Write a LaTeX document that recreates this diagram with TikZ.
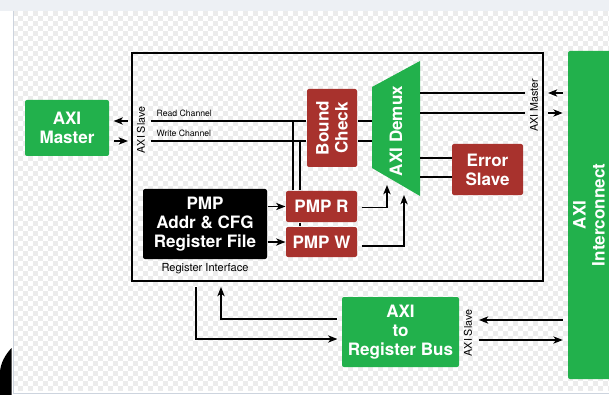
\documentclass[tikz,border=0pt]{standalone}
\usepackage{fontspec}
\setmainfont{TeX Gyre Heros}
\usetikzlibrary{arrows.meta}

\definecolor{axigreen}{RGB}{34,177,76}
\definecolor{pmpred}{RGB}{168,50,45}
\definecolor{checkgray}{RGB}{236,236,236}
\definecolor{panelgray}{RGB}{237,240,244}
\definecolor{panelline}{RGB}{205,212,222}

\tikzset{every picture/.style={line width=0.9pt}}
\tikzset{
  blk/.style 2 args={minimum width={#1*0.75pt},minimum height={#2*0.75pt},inner sep=0pt,
    align=center,text=white,rounded corners=1.5pt,font=\bfseries\fontsize{12.8}{14.3}\selectfont},
  greenbox/.style={fill=axigreen},
  redbox/.style={fill=pmpred},
  lbl/.style={font=\fontsize{8}{9}\selectfont,inner sep=0.75pt},
  sig/.style={-{Stealth[length=7pt,width=5.5pt,inset=2pt]}},
}

\begin{document}
\begin{tikzpicture}[x=0.75pt,y=0.75pt,yscale=-1]
\useasboundingbox (0,0) rectangle (609,395);

%Backdrop: checkered rows
\fill[panelgray] (0,0) rectangle (609,11);
\fill[white] (0,11) rectangle (609,395);
\foreach \r [evaluate=\r as \ph using {mod(\r,2)*3.75}] in {0,...,75}
  \draw[checkgray,line width=3.75pt,dash pattern=on 3.75pt off 3.75pt,dash phase=\ph pt]
    (13,13.5+5*\r) -- (609,13.5+5*\r);
\fill[white] (0,391) rectangle (609,395);
\draw[panelline,line width=0.6pt] (13,11) -- (13,393) -- (609,393);
\fill (11.5,348) .. controls (5,355) and (0,364) .. (0,373) -- (0,395) -- (11.5,395) -- cycle;

%Shape: PMP wrapper
\draw[line width=1.1pt] (132,53) rectangle (543,281);

%Blocks
\fill[axigreen,rounded corners=1.5pt] (568,51) rectangle (620,379);
\node[blk={328}{42},rotate=90] (xbar) at (589,215) {AXI\\Interconnect};
\node[blk={84}{56},greenbox] (master) at (67,128) {AXI\\Master};
\node[blk={117}{70},greenbox] (bridge) at (400.5,332) {AXI\\to\\Register Bus};
\node[blk={78}{50},redbox,rotate=90] (bound) at (332,128) {Bound\\Check};
\node[blk={71}{31},redbox] (pmpr) at (321.5,206.5) {PMP R};
\node[blk={71}{30},redbox] (pmpw) at (321.5,242) {PMP W};
\node[blk={71}{51},redbox] (errslv) at (487.5,169.5) {Error\\Slave};
\node[blk={124}{70},fill=black] (regfile) at (205,224) {PMP\\Addr \& CFG\\Register File};

%Shape: demux trapezoid
\fill[axigreen] (372,87) -- (420,61) -- (420,196) -- (372,168) -- cycle;
\node[blk={0}{0},rotate=90] (demux) at (396,131) {AXI Demux};
\coordinate (dmxin) at (372,131);
\coordinate (dmxout) at (420,131);

% rotated nodes: north is the left side, south the right side
\coordinate (slvR) at (151,121);
\coordinate (slvW) at (151,141);
\draw (slvR) -- (slvR -| bound.north);
\draw (slvW) -- (slvW -| bound.north);
\draw (bound.south |- slvR) -- (dmxin |- slvR);
\draw (bound.south |- slvW) -- (dmxin |- slvW);

% taps down to the PMP checkers
\coordinate (tapR) at (293,121);
\coordinate (tapW) at (300,141);
\draw (tapR) -- (tapR |- pmpr.north);
\draw (tapW) -- (tapW |- pmpr.north);
\draw (tapW |- pmpr.south) -- (tapW |- pmpw.north);

\draw[sig] (regfile.east |- pmpr.west) -- (pmpr.west);
\draw[sig] (regfile.east |- pmpw.west) -- (pmpw.west);

\coordinate (rdin) at (387,185);
\coordinate (wrin) at (404,195);
\draw[sig] ([xshift=3pt,yshift=1pt]pmpr.east) -| (rdin);
\draw[sig] ([xshift=3pt,yshift=3pt]pmpw.east) -| (wrin);

% demux outputs
\coordinate (mstR) at (525,93);
\coordinate (mstW) at (525,113);
\draw (dmxout |- mstR) -- (mstR);
\draw (dmxout |- mstW) -- (mstW);
\coordinate (err1) at (452,158);
\coordinate (err2) at (452,177);
\draw (dmxout |- err1) -- (err1);
\draw (dmxout |- err2) -- (err2);

% ports outside the wrapper
\coordinate (lftR) at (128,121);
\coordinate (lftW) at (128,141);
\draw[sig,shorten >=3pt] (lftR) -- (lftR -| master.east);
\draw[sig,shorten <=3pt] (lftW -| master.east) -- (lftW);
\coordinate (rgtR) at (548,93);
\coordinate (rgtW) at (548,113);
\coordinate (xbarL) at (568,215);
\draw[sig,shorten <=4pt] (rgtR -| xbarL) -- (rgtR);
\draw[sig,shorten >=4pt] (rgtW) -- (rgtW -| xbarL);

% register bus
\coordinate (rifo) at (196,287);
\coordinate (rifi) at (221,287);
\draw[sig,shorten >=3pt] (rifo) |- ([yshift=5.25pt]bridge.west);
\draw[sig,shorten <=3pt] ([yshift=-9.75pt]bridge.west) -| (rifi);
\coordinate (bsR) at (479,320);
\coordinate (bsW) at (479,340);
\draw[sig,shorten <=4pt] (bsR -| xbarL) -- (bsR);
\draw[sig,shorten >=4pt] (bsW) -- (bsW -| xbarL);

% Text Node
\node[lbl,rotate=90] (slvlbl) at (141,130) {AXI Slave};
\node[lbl,rotate=90] (mstlbl) at (534,105) {AXI Master};
\node[lbl,rotate=90] (brglbl) at (468,333) {AXI Slave};
\node[lbl,font=\fontsize{6.5}{7}\selectfont,anchor=south west] (rdlbl) at (155,118.5) {Read Channel};
\node[lbl,font=\fontsize{6.5}{7}\selectfont,anchor=south west] (wrlbl) at (155,138.5) {Write Channel};
\node[lbl,font=\fontsize{8.3}{9}\selectfont] (riflbl) at (205,269) {Register Interface};

\end{tikzpicture}
\end{document}
